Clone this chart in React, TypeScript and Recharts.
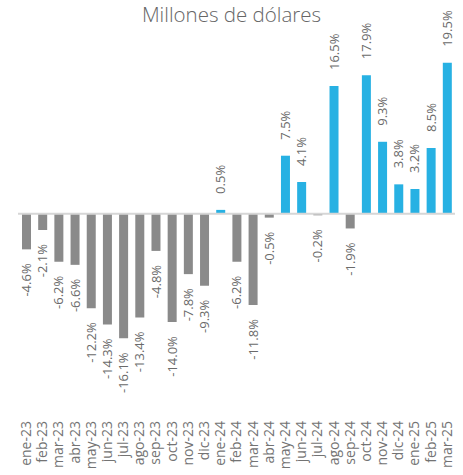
import { BarChart, Bar, XAxis, YAxis, Cell, ReferenceLine, LabelList } from 'recharts'

const months = [
  'ene-23', 'feb-23', 'mar-23', 'abr-23', 'may-23', 'jun-23', 'jul-23', 'ago-23', 'sep-23',
  'oct-23', 'nov-23', 'dic-23', 'ene-24', 'feb-24', 'mar-24', 'abr-24', 'may-24', 'jun-24',
  'jul-24', 'ago-24', 'sep-24', 'oct-24', 'nov-24', 'dic-24', 'ene-25', 'feb-25', 'mar-25',
]

const changes = [
  -4.6, -2.1, -6.2, -6.6, -12.2, -14.3, -16.1, -13.4, -4.8,
  -14.0, -7.8, -9.3, 0.5, -6.2, -11.8, -0.5, 7.5, 4.1,
  -0.2, 16.5, -1.9, 17.9, 9.3, 3.8, 3.2, 8.5, 19.5,
]

const BLUE = '#27b1e3'
const GRAY = '#8a8a8a'
const FONT = '"Open Sans", sans-serif'

const data = months.map((month, i) => ({ month, value: changes[i] }))

function ValueLabel(props: any) {
  const { x, y, width, height, value } = props
  const cx = Number(x) + Number(width) / 2
  const top = Math.min(Number(y), Number(y) + Number(height))
  const bottom = Math.max(Number(y), Number(y) + Number(height))
  const positive = Number(value) >= 0
  const ay = positive ? top - 16 : bottom + 14
  return (
    <text
      x={cx}
      y={ay}
      dy="0.35em"
      transform={`rotate(-90, ${cx}, ${ay})`}
      textAnchor={positive ? 'start' : 'end'}
      fill="#6a6a6a"
      fontSize={13}
      fontFamily={FONT}
    >
      {Number(value).toFixed(1)}%
    </text>
  )
}

function MonthTick(props: any) {
  const { x, y, payload } = props
  const ty = Number(y) + 6
  return (
    <text
      x={x}
      y={ty}
      dy="0.35em"
      transform={`rotate(-90, ${x}, ${ty})`}
      textAnchor="end"
      fill="#737373"
      fontSize={14}
      fontFamily={FONT}
    >
      {payload.value}
    </text>
  )
}

export default function App() {
  return (
    <div style={{ position: 'absolute', left: 0, top: 0, width: 463, height: 475 }}>
      <div
        style={{
          position: 'absolute',
          top: 0,
          left: 0,
          width: 463,
          textAlign: 'center',
          fontFamily: FONT,
          fontWeight: 300,
          fontSize: 20.5,
          lineHeight: '28px',
          color: '#666',
        }}
      >
        Millones de dólares
      </div>
      <BarChart
        width={463}
        height={475}
        data={data}
        margin={{ top: 28, right: 8, bottom: 0, left: 18 }}
        barCategoryGap={0}
      >
        <XAxis
          dataKey="month"
          height={60}
          interval={0}
          axisLine={false}
          tickLine={false}
          tickSize={0}
          tickMargin={0}
          tick={<MonthTick />}
        />
        <YAxis hide domain={[-26, 24]} />
        <ReferenceLine y={0} stroke="#d6d6d6" strokeWidth={2} />
        <Bar dataKey="value" barSize={9} isAnimationActive={false}>
          {data.map((d) => (
            <Cell key={d.month} fill={d.value >= 0 ? BLUE : GRAY} />
          ))}
          <LabelList dataKey="value" content={<ValueLabel />} />
        </Bar>
      </BarChart>
    </div>
  )
}
